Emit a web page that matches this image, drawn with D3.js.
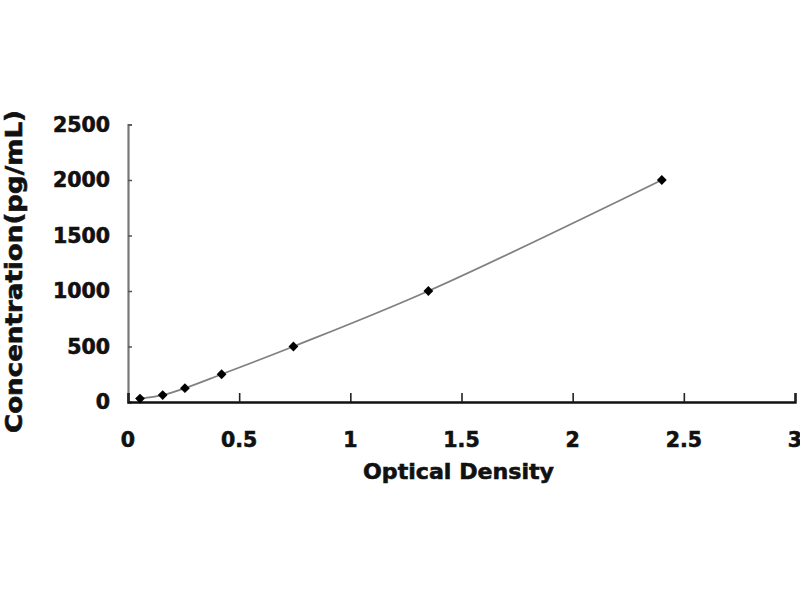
<!DOCTYPE html>
<html>
<head>
<meta charset="utf-8">
<script src="https://cdn.jsdelivr.net/npm/d3@7/dist/d3.min.js"></script>
<style>
  html, body { margin: 0; padding: 0; background: #fff; }
  svg { display: block; }
  text { font-family: "DejaVu Sans", "Liberation Sans", Arial, sans-serif; font-weight: bold; fill: #111; stroke: #111; stroke-width: 0.6px; }
</style>
</head>
<body>
<svg id="chart" width="800" height="600"></svg>
<script>
// Data
const opticalDensity = [0.054, 0.156, 0.256, 0.421, 0.744, 1.351, 2.401];
const concentration  = [31.25, 62.5, 125, 250, 500, 1000, 2000];
const xTicks = [0, 0.5, 1, 1.5, 2, 2.5, 3];
const yTicks = [0, 500, 1000, 1500, 2000, 2500];
const xTitle = "Optical Density";
const yTitle = "Concentration(pg/mL)";

const svg = d3.select("#chart");
const x = d3.scaleLinear().domain([0, 3]).range([128, 795]);
const y = d3.scaleLinear().domain([0, 2500]).range([402, 124.5]);

// Y axis
const yAxis = svg.append("g").attr("transform", `translate(${x(0)},0)`)
  .call(d3.axisRight(y).tickValues(yTicks).tickSize(4).tickFormat(""));
yAxis.select(".domain").attr("stroke", "#777").attr("stroke-width", 2.2);
yAxis.selectAll(".tick line").attr("stroke", "#555").attr("stroke-width", 1.5);

svg.append("g").selectAll("text").data(yTicks).join("text")
  .attr("x", 110).attr("y", d => y(d)).attr("dy", "0.36em")
  .attr("text-anchor", "end").style("font-size", "20.5px")
  .text(d => d);

// X axis
const xAxis = svg.append("g").attr("transform", `translate(0,${y(0)})`)
  .call(d3.axisTop(x).tickValues(xTicks).tickSize(9).tickFormat(""));
xAxis.select(".domain").attr("stroke", "#111").attr("stroke-width", 2.4);
xAxis.selectAll(".tick line").attr("stroke", "#222").attr("stroke-width", 1.6);

svg.append("g").selectAll("text").data(xTicks).join("text")
  .attr("x", d => x(d)).attr("y", 447)
  .attr("text-anchor", "middle").style("font-size", "20.5px")
  .text(d => d);

// Titles
svg.append("text").attr("x", 458.5).attr("y", 479)
  .attr("text-anchor", "middle").style("font-size", "22px")
  .attr("textLength", 191).attr("lengthAdjust", "spacingAndGlyphs")
  .text(xTitle);

svg.append("text").attr("transform", "translate(22,271.5) rotate(-90)")
  .attr("text-anchor", "middle").style("font-size", "23px")
  .attr("textLength", 323).attr("lengthAdjust", "spacingAndGlyphs")
  .text(yTitle);

// Curve
const pts = opticalDensity.map((d, i) => [d, concentration[i]]);
svg.append("path").datum(pts)
  .attr("fill", "none").attr("stroke", "#808080").attr("stroke-width", 1.8)
  .attr("d", d3.line().x(d => x(d[0])).y(d => y(d[1])).curve(d3.curveCatmullRom));

// Markers (square rotated 45°)
svg.append("g").selectAll("path").data(pts).join("path")
  .attr("transform", d => `translate(${x(d[0])},${y(d[1])}) rotate(45)`)
  .attr("d", d3.symbol().type(d3.symbolSquare).size(48))
  .attr("fill", "#000");
</script>
</body>
</html>
